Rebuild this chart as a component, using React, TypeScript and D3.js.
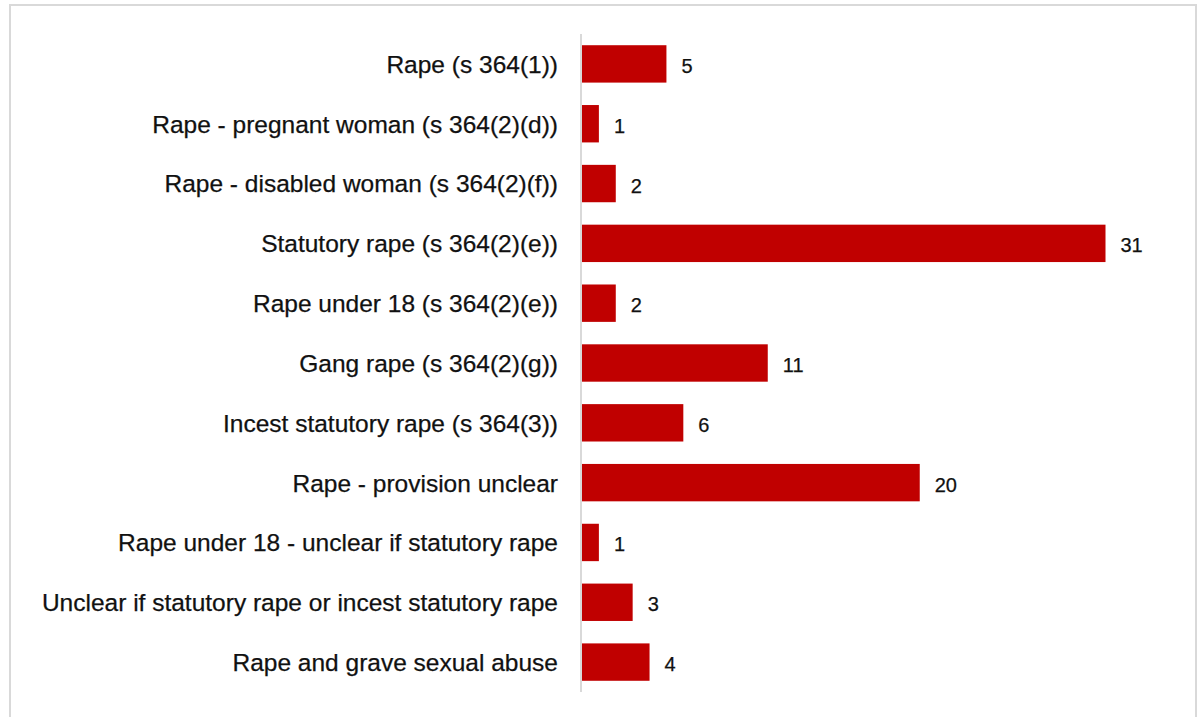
import React from "react";
import * as d3 from "d3";

const categories = [
  "Rape (s 364(1))",
  "Rape - pregnant woman (s 364(2)(d))",
  "Rape - disabled woman (s 364(2)(f))",
  "Statutory rape (s 364(2)(e))",
  "Rape under 18 (s 364(2)(e))",
  "Gang rape (s 364(2)(g))",
  "Incest statutory rape (s 364(3))",
  "Rape - provision unclear",
  "Rape under 18 - unclear if statutory rape",
  "Unclear if statutory rape or incest statutory rape",
  "Rape and grave sexual abuse",
];
const values = [5, 1, 2, 31, 2, 11, 6, 20, 1, 3, 4];

const W = 1197;
const H = 717;

export default function App() {
  const x = d3.scaleLinear().domain([0, 31]).range([582, 1105.5]);
  const y = d3.scaleBand<string>().domain(categories).range([34, 692]).paddingInner(0.375).paddingOuter(0.1875);
  const font = "'Liberation Sans', Arial, Helvetica, sans-serif";
  const labelSize = 24.5;
  const valueSize = 20;
  return (
    <svg width={W} height={H} style={{ position: "absolute", left: 0, top: 0 }}>
      <rect x={0} y={0} width={W} height={H} fill="#fff" />
      <rect x={10} y={5} width={W - 11} height={H + 10} fill="none" stroke="#d9d9d9" strokeWidth={2} />
      {categories.map((c, i) => {
        const yc = (y(c) as number) + y.bandwidth() / 2;
        return (
          <g key={c}>
            <rect x={x(0)} y={y(c)} width={x(values[i]) - x(0)} height={y.bandwidth()} fill="#c00000" />
            <text x={558} y={yc + labelSize * 0.365} textAnchor="end" fontFamily={font} fontSize={labelSize} fill="#111" stroke="#111" strokeWidth={0.25}>
              {c}
            </text>
            <text x={x(values[i]) + 15} y={yc + 9} fontFamily={font} fontSize={valueSize} fill="#111" stroke="#111" strokeWidth={0.25}>
              {values[i]}
            </text>
          </g>
        );
      })}
      <line x1={581} x2={581} y1={34} y2={692} stroke="#d9d9d9" strokeWidth={2} />
    </svg>
  );
}
